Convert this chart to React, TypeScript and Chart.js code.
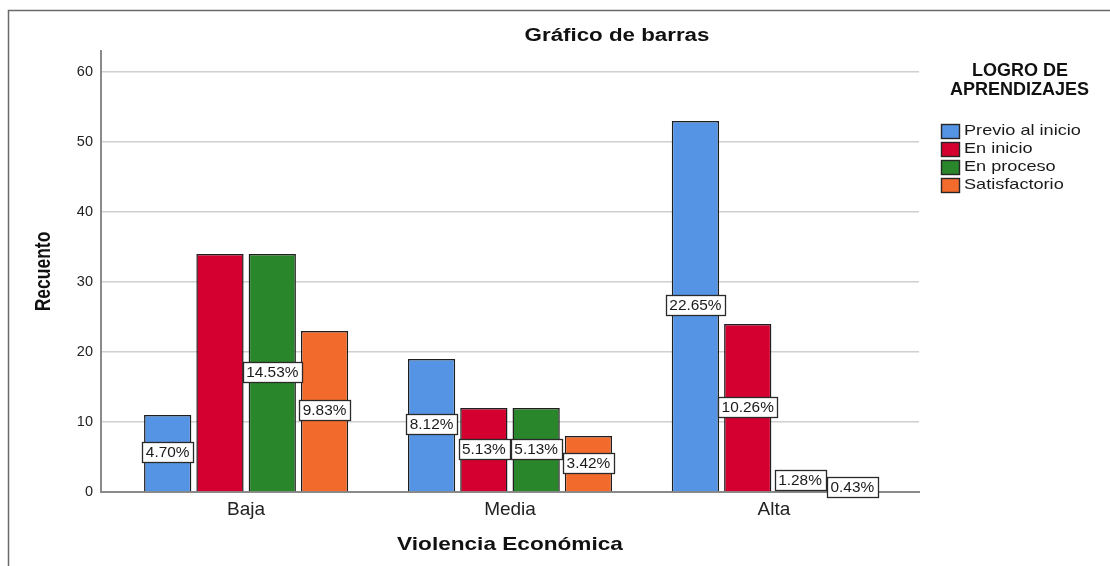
import React, { useEffect, useRef } from 'react';
import { Chart, registerables } from 'chart.js';

Chart.register(...registerables);

// ---- Data ----
const CATEGORIES = ['Baja', 'Media', 'Alta'];
const SERIES_NAMES = ['Previo al inicio', 'En inicio', 'En proceso', 'Satisfactorio'];
const PREVIO_AL_INICIO = [11, 19, 53];
const EN_INICIO = [34, 12, 24];
const EN_PROCESO = [34, 12, 3];
const SATISFACTORIO = [23, 8, 1];
const Y_TICKS = [0, 10, 20, 30, 40, 50, 60];
const Y_MAX = 63;

const TITLE = 'Gráfico de barras';
const X_TITLE = 'Violencia Económica';
const Y_TITLE = 'Recuento';
const LEGEND_TITLE = ['LOGRO DE', 'APRENDIZAJES'];

const SERIES = [PREVIO_AL_INICIO, EN_INICIO, EN_PROCESO, SATISFACTORIO];
const COLORS = ['#5594E4', '#D4002F', '#2A862A', '#F36B2C'];
const TOTAL = SERIES.reduce((s, arr) => s + arr.reduce((a, b) => a + b, 0), 0);

const FONT = '"Liberation Sans", Arial, Helvetica, sans-serif';
Chart.defaults.font.family = FONT;

function drawText(
  ctx: CanvasRenderingContext2D,
  text: string,
  x: number,
  y: number,
  font: string,
  sx: number,
  color: string,
  align: CanvasTextAlign = 'center',
  rotate = false
) {
  ctx.save();
  ctx.translate(x, y);
  if (rotate) {
    ctx.rotate(-Math.PI / 2);
    ctx.scale(1, sx);
  } else {
    ctx.scale(sx, 1);
  }
  ctx.font = font;
  ctx.fillStyle = color;
  ctx.textAlign = align;
  ctx.textBaseline = 'middle';
  ctx.fillText(text, 0, 0);
  ctx.restore();
}

const decorPlugin = {
  id: 'decor',
  beforeDraw(chart: any) {
    const ctx = chart.ctx as CanvasRenderingContext2D;
    ctx.save();
    ctx.fillStyle = '#ffffff';
    ctx.fillRect(0, 0, chart.width, chart.height);
    ctx.strokeStyle = '#6a6a6a';
    ctx.lineWidth = 1.5;
    ctx.beginPath();
    ctx.moveTo(8.5, chart.height);
    ctx.lineTo(8.5, 10.5);
    ctx.lineTo(chart.width, 10.5);
    ctx.stroke();
    ctx.restore();
  },
  afterDraw(chart: any) {
    const ctx = chart.ctx as CanvasRenderingContext2D;
    const area = chart.chartArea;
    // Title
    drawText(ctx, TITLE, 617, 36.5, `bold 18px ${FONT}`, 1.24, '#111');
    // X axis title
    drawText(ctx, X_TITLE, (area.left + area.right) / 2, 545, `bold 19px ${FONT}`, 1.19, '#111');
    // Y axis title
    drawText(ctx, Y_TITLE, 44, (area.top + area.bottom) / 2, `bold 17.5px ${FONT}`, 1.3, '#111', 'center', true);
    // Legend title
    drawText(ctx, LEGEND_TITLE[0], 1020, 71.5, `bold 18px ${FONT}`, 1.0, '#111');
    drawText(ctx, LEGEND_TITLE[1], 1019.5, 90, `bold 18px ${FONT}`, 1.0, '#111');
    // Legend items
    SERIES_NAMES.forEach((name, i) => {
      const cy = 131 + i * 18.1;
      ctx.save();
      ctx.fillStyle = COLORS[i];
      ctx.fillRect(941, Math.round(cy - 7), 19, 15);
      ctx.strokeStyle = '#262626';
      ctx.lineWidth = 1.4;
      ctx.strokeRect(941.5, Math.round(cy - 7) + 0.5, 18, 14);
      ctx.restore();
      drawText(ctx, name, 964, cy, `14.5px ${FONT}`, 1.25, '#1a1a1a', 'left');
    });
  },
};

const valueLabelPlugin = {
  id: 'valueLabels',
  afterDatasetsDraw(chart: any) {
    const ctx = chart.ctx as CanvasRenderingContext2D;
    const placed: { l: number; r: number; t: number; b: number }[] = [];
    const sx = 1.1;
    for (let d = chart.data.datasets.length - 1; d >= 0; d--) {
      const meta = chart.getDatasetMeta(d);
      meta.data.forEach((bar: any, i: number) => {
        const v = chart.data.datasets[d].data[i].y;
        const text = ((v / TOTAL) * 100).toFixed(2) + '%';
        ctx.save();
        ctx.font = `14px ${FONT}`;
        const tw = ctx.measureText(text).width * sx;
        ctx.restore();
        const w = tw + 7;
        const h = 20;
        const cx = bar.x;
        const cy = (bar.y + bar.base) / 2;
        const box = { l: cx - w / 2, r: cx + w / 2, t: cy - h / 2, b: cy + h / 2 };
        const hit = placed.some((o) => box.l < o.r && box.r > o.l && box.t < o.b && box.b > o.t);
        if (hit) return;
        placed.push(box);
        ctx.save();
        const lx = Math.round(box.l) + 0.5;
        const ty = Math.round(box.t) - 0.5;
        ctx.fillStyle = '#ffffff';
        ctx.fillRect(lx, ty, Math.round(w), h);
        ctx.strokeStyle = '#2a2a2a';
        ctx.lineWidth = 1.3;
        ctx.strokeRect(lx, ty, Math.round(w), h);
        ctx.restore();
        drawText(ctx, text, cx, ty + h / 2 + 0.5, `14px ${FONT}`, sx, '#1a1a1a');
      });
    }
  },
};

export default function App() {
  const ref = useRef<HTMLCanvasElement>(null);

  useEffect(() => {
    if (!ref.current) return;
    const chart = new Chart(ref.current, {
      type: 'bar',
      data: {
        datasets: SERIES.map((values, s) => ({
          label: SERIES_NAMES[s],
          data: values.map((v, i) => ({ x: i, y: v })),
          backgroundColor: COLORS[s],
          borderColor: '#1e1e1e',
          borderWidth: 1.5,
          categoryPercentage: 0.7927,
          barPercentage: 0.904,
        })),
      },
      options: {
        responsive: false,
        animation: false,
        events: [],
        layout: { padding: { left: 0, right: 191, top: 51, bottom: 44 } },
        plugins: {
          legend: { display: false },
          title: { display: false },
          tooltip: { enabled: false },
        },
        scales: {
          x: {
            type: 'linear',
            offset: false,
            min: -0.55,
            max: 2.55,
            afterBuildTicks: (scale: any) => {
              scale.ticks = CATEGORIES.map((_, i) => ({ value: i }));
            },
            afterFit: (scale: any) => {
              scale.height = 30;
            },
            grid: { display: false, drawTicks: false, offset: false },
            border: { display: true, color: '#8a8a8a', width: 2 },
            ticks: {
              callback: (v: any) => CATEGORIES[v] ?? '',
              font: { size: 19 },
              color: '#222',
              padding: 6,
              maxRotation: 0,
              autoSkip: false,
            },
          },
          y: {
            min: 0,
            max: Y_MAX,
            afterBuildTicks: (scale: any) => {
              scale.ticks = Y_TICKS.map((v) => ({ value: v }));
            },
            afterFit: (scale: any) => {
              scale.width = 101;
            },
            grid: {
              color: (c: any) => (c.tick && c.tick.value === 0 ? 'rgba(0,0,0,0)' : '#cfcfcf'),
              lineWidth: 1.5,
              drawTicks: false,
            },
            border: { display: true, color: '#8a8a8a', width: 2 },
            ticks: { font: { size: 14.5 }, color: '#222', padding: 8 },
          },
        },
      },
      plugins: [decorPlugin, valueLabelPlugin],
    } as any);
    return () => chart.destroy();
  }, []);

  return (
    <div style={{ position: 'fixed', left: 0, top: 0, width: 1110, height: 566, background: '#fff' }}>
      <canvas ref={ref} width={1110} height={566} style={{ display: 'block', width: 1110, height: 566 }} />
    </div>
  );
}
